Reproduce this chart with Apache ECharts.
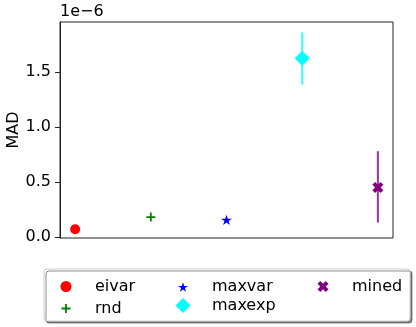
<!DOCTYPE html>
<html>
<head>
<meta charset="utf-8">
<script src="https://cdn.jsdelivr.net/npm/echarts@6/dist/echarts.min.js"></script>
<style>
  html, body { margin: 0; padding: 0; background: #fff; }
  #chart { width: 416px; height: 327px; }
</style>
</head>
<body>
<div id="chart"></div>
<script>
// values in units of 1e-6
const methods = ["eivar", "rnd", "maxvar", "maxexp", "mined"];
const mad = [0.07, 0.18, 0.155, 1.625, 0.45];
const errLow = [0.07, 0.18, 0.155, 1.385, 0.13];
const errHigh = [0.07, 0.18, 0.155, 1.86, 0.78];
const yTicks = [0, 0.5, 1.0, 1.5];

const colors = ["#ff0000", "#008000", "#0000ff", "#00ffff", "#800080"];
const symbols = [
  "circle",
  "path://M4,0h2v4h4v2h-4v4h-2v-4h-4v-2h4z",
  "path://M50,0L61.17,34.63L97.55,34.55L68.07,55.87L79.39,90.45L50,69L20.61,90.45L31.93,55.87L2.45,34.55L38.83,34.63Z",
  "path://M5,0L10,5L5,10L0,5Z",
  "path://M0,2.5L2.5,0L5,2.5L7.5,0L10,2.5L7.5,5L10,7.5L7.5,10L5,7.5L2.5,10L0,7.5L2.5,5Z"
];
const symbolSizes = [10, 9, 11, 15, 11];
const legendIconSizes = [11, 9, 10, 15, 11];
// legend slots: [icon centre x, row centre y]
const legendSlots = [[66, 284], [66, 305], [183, 284], [183, 305], [323, 284]];

const font = "DejaVu Sans";
const fontSize = 16;
const textOffset = 29; // icon centre to text start

let myChart = echarts.init(document.getElementById("chart"));

let series = methods.map(function (m, i) {
  return {
    name: m,
    type: "scatter",
    data: [[i, mad[i]]],
    symbol: symbols[i],
    symbolSize: symbolSizes[i],
    symbolKeepAspect: true,
    itemStyle: { color: colors[i], opacity: 1 },
    z: 3,
  };
});

series.push({
  name: "errorbars",
  type: "custom",
  data: methods.map(function (m, i) { return [i, errLow[i], errHigh[i]]; }),
  encode: { x: 0, y: [1, 2] },
  z: 2,
  renderItem: function (params, api) {
    let p1 = api.coord([api.value(0), api.value(1)]);
    let p2 = api.coord([api.value(0), api.value(2)]);
    return {
      type: "line",
      shape: { x1: p1[0], y1: p1[1], x2: p2[0], y2: p2[1] },
      style: { stroke: colors[params.dataIndex], lineWidth: 2, opacity: 0.8 },
    };
  },
});

let legends = methods.map(function (m, i) {
  let h = legendIconSizes[i];
  return {
    data: [m],
    orient: "vertical",
    left: legendSlots[i][0] - h / 2,
    top: legendSlots[i][1] - h / 2,
    padding: 0,
    itemWidth: h,
    itemHeight: h,
    symbolKeepAspect: true,
    selectedMode: false,
    textStyle: {
      fontFamily: font,
      fontSize: fontSize,
      color: "#000",
      padding: [0, 0, 0, textOffset - h / 2 - 5],
    },
  };
});

myChart.setOption({
  backgroundColor: "#ffffff",
  animation: false,
  grid: {
    left: 60,
    right: 23,
    top: 22,
    bottom: 89,
    outerBoundsMode: "none",
    containLabel: false,
    show: true,
    borderColor: "#222",
    borderWidth: 1,
    backgroundColor: "transparent",
  },
  xAxis: {
    type: "value",
    min: -0.2,
    max: 4.2,
    axisLine: { show: false },
    axisTick: { show: false },
    axisLabel: { show: false },
    splitLine: { show: false },
  },
  yAxis: {
    type: "value",
    min: -0.01,
    max: 1.955,
    name: "MAD",
    nameLocation: "middle",
    nameGap: 38,
    nameMoveOverlap: false,
    nameTextStyle: { fontFamily: font, fontSize: fontSize, color: "#000" },
    axisLine: { show: true, onZero: false, lineStyle: { color: "#222", width: 1 } },
    axisTick: {
      show: true,
      length: 5,
      customValues: yTicks,
      lineStyle: { color: "#222", width: 1 },
    },
    axisLabel: {
      show: true,
      margin: 9,
      customValues: yTicks,
      formatter: function (v) { return v.toFixed(1); },
      fontFamily: font,
      fontSize: fontSize,
      color: "#000",
    },
    splitLine: { show: false },
  },
  legend: legends,
  graphic: [
    {
      type: "rect",
      z: 0,
      shape: { x: 44, y: 269, width: 366, height: 52, r: 3 },
      style: {
        fill: "#fff",
        stroke: "#cccccc",
        lineWidth: 1,
        shadowColor: "rgba(0,0,0,0.45)",
        shadowOffsetX: 2,
        shadowOffsetY: 2,
        shadowBlur: 0,
      },
    },
    {
      type: "text",
      left: 60,
      top: 4,
      style: { text: "1e\u22126", fontFamily: font, fontSize: fontSize, fill: "#000" },
    },
  ],
  series: series,
});
</script>
</body>
</html>
